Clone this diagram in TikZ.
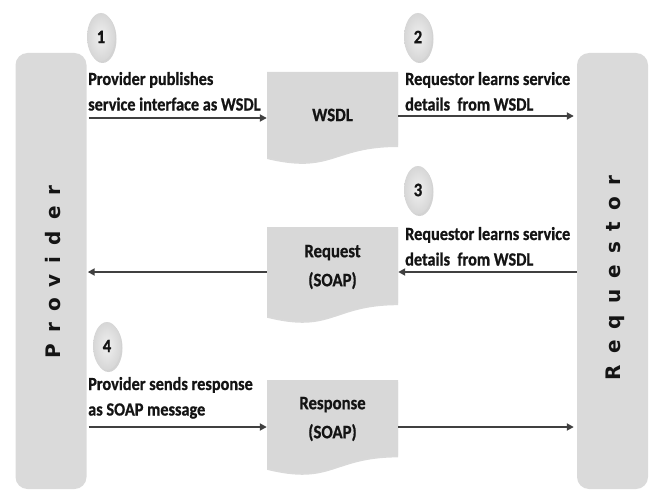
\documentclass[tikz,border=0pt]{standalone}
\usepackage{fontspec}
\setmainfont{Carlito}[FakeStretch=0.88, BoldFont={Carlito Bold}, BoldFeatures={FakeBold=0.8}]
\newfontfamily\barfont{DejaVu Sans}[LetterSpace=55]
\usetikzlibrary{arrows.meta,shadows,shapes.geometric}
\definecolor{barfill}{RGB}{218,218,218}
\definecolor{docfill}{RGB}{216,216,216}
\definecolor{arrowgray}{RGB}{64,64,64}
\definecolor{txt}{RGB}{20,20,20}
\newcommand\twolines[2]{\vtop{\hbox{#1}\hbox{#2}}}
\tikzset{
  bar/.style={fill=barfill, rounded corners=12pt, minimum width=71pt, minimum height=436pt, inner sep=0pt},
  barlabel/.style={rotate=90, text=txt, font=\barfont\bfseries\fontsize{20}{24}\selectfont},
  numcirc/.style={ellipse, inner color=gray!12, outer color=gray!32, minimum width=28pt, minimum height=48pt, inner sep=0pt,
    text=txt, font=\bfseries\fontsize{19}{22}\selectfont,
    drop shadow={shadow xshift=1.5pt, shadow yshift=-2pt, opacity=0.35, fill=gray}},
  docbody/.style={fill=docfill, drop shadow={shadow xshift=0pt, shadow yshift=-2pt, opacity=0.3, fill=gray}},
  docnode/.style={minimum width=131pt, inner sep=0pt, align=center, text=txt,
    font=\bfseries\fontsize{19}{29}\selectfont},
  lbl/.style={anchor=base west, inner sep=0pt, text=txt,
    font=\bfseries\fontsize{18.5}{25.5}\selectfont},
  arr/.style={draw=arrowgray, line width=2pt, -{Triangle[length=7pt,width=7pt]}}
}
\begin{document}
\begin{tikzpicture}[x=1pt,y=-1pt]
\useasboundingbox (0,0) rectangle (650,492);
% side bars
\node[bar] (prov) at (51,271) {};
\node[bar] (req) at (612.5,271) {};
\node[barlabel] (provlabel) at (53,272) {Provider};
\node[barlabel] (reqlabel) at (615,278) {Requestor};
% documents
\path[docbody] (267,72) -- (398,72) -- (398,145) .. controls (332.5,145) and (332.5,172.7) .. (267,157) -- cycle;
\path[docbody] (267,227) -- (398,227) -- (398,303.2) .. controls (332.5,303.2) and (332.5,332.2) .. (267,315.7) -- cycle;
\path[docbody] (267,380) -- (398,380) -- (398,455.4) .. controls (332.5,455.4) and (332.5,484) .. (267,467.8) -- cycle;
\node[docnode] (wsdl) at (332.5,115) {WSDL};
\node[docnode] (request) at (332.5,267) {Request\\(SOAP)};
\node[docnode] (response) at (332.5,419) {Response\\(SOAP)};
% step markers
\node[numcirc] (c1) at (101,37) {1};
\node[numcirc] (c2) at (418,37) {2};
\node[numcirc] (c3) at (418,190) {3};
\node[numcirc] (c4) at (107,346) {4};
% labels
\node[lbl] (t1) at (88,85) {\twolines{Provider publishes}{service interface as WSDL}};
\node[lbl] (t2) at (405,85) {\twolines{Requestor learns service}{details\ \ from WSDL}};
\node[lbl] (t3) at (405,240) {\twolines{Requestor learns service}{details\ \ from WSDL}};
\node[lbl] (t4) at (88,390) {\twolines{Provider sends response}{as SOAP message}};
% arrow levels
\coordinate (y1) at (0,118);
\coordinate (y2) at (0,116);
\coordinate (y3) at (0,272);
\coordinate (y4) at (0,427);
\draw[arr] ([xshift=2pt]prov.east |- y1) -- (wsdl.west |- y1);
\draw[arr] (wsdl.east |- y2) -- ([xshift=-3pt]req.west |- y2);
\draw[arr] (req.west |- y3) -- (request.east |- y3);
\draw[arr] (request.west |- y3) -- ([xshift=1pt]prov.east |- y3);
\draw[arr] ([xshift=2pt]prov.east |- y4) -- (response.west |- y4);
\draw[arr] (response.east |- y4) -- ([xshift=-3pt]req.west |- y4);
\end{tikzpicture}
\end{document}
